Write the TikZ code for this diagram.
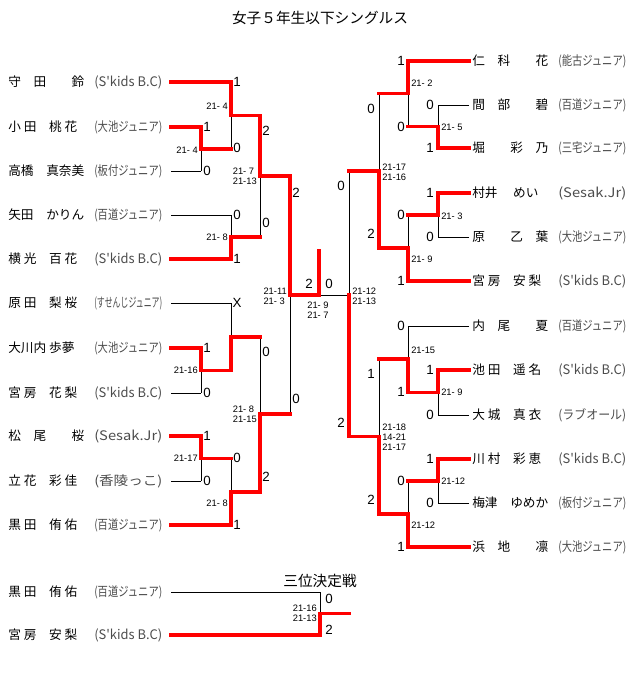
\documentclass[tikz,border=0pt]{standalone}
\usepackage{fontspec}
\setmainfont{Liberation Sans}
\newfontfamily\jp{Noto Sans CJK JP}
\begin{document}
\begin{tikzpicture}[x=0.75pt,y=-0.75pt,
    perdu/.style={draw=black,line width=0.75pt},
    gagne/.style={draw=red,line width=2.6pt,line cap=rect},
    nom/.style={anchor=west,inner sep=0pt,font=\jp\fontsize{9.5}{11}\selectfont},
    club/.style={anchor=west,inner sep=0pt,text=black!70,font=\jp\fontsize{10}{12}\selectfont},
    titre/.style={inner sep=0pt,font=\jp\fontsize{11}{13}\selectfont},
    score/.style={inner sep=0pt,font=\fontsize{10}{12}\selectfont},
    manche/.style={inner sep=0pt,align=left,font=\fontsize{7}{7.5}\selectfont}]
    \useasboundingbox (0,0) rectangle (640,689); % cadre de l'image
    \node[titre] (titre) at (320,18) {女子５年生以下シングルス};
    \node[titre] (troisieme) at (320,581) {三位決定戦};
    % Joueurs a gauche
    \foreach \i/\y/\joueur/\equipe in {1/82/{守　田　　鈴}/{(S'kids B.C)},
        2/127/{小 田　桃 花}/{(大池ジュニア)}, 3/171/{高橋　真奈美}/{(板付ジュニア)},
        4/215/{矢田　かりん}/{(百道ジュニア)}, 5/259/{横 光　百 花}/{(S'kids B.C)},
        6/303/{原 田　梨 桜}/{(すせんじジュニア)}, 7/348/{大川内 歩夢}/{(大池ジュニア)},
        8/393/{宮 房　花 梨}/{(S'kids B.C)}, 9/436/{松　尾　　桜}/{(Sesak.Jr)},
        10/481/{立 花　彩 佳}/{(香陵っこ)}, 11/525/{黒 田　侑 佑}/{(百道ジュニア)}} {
        \coordinate (l\i) at (171,\y);
        \node[nom] (nl\i) at (8,\y) {\joueur};
        \node[club] (cl\i) at (94,\y) {\resizebox*{51pt}{10pt}{\equipe}};}
    % Joueurs a droite
    \foreach \i/\y/\joueur/\equipe in {1/61/{仁　科　　花}/{(能古ジュニア)},
        2/105/{間　部　　碧}/{(百道ジュニア)}, 3/148/{堀　　彩　乃}/{(三宅ジュニア)},
        4/193/{村井　 めい}/{(Sesak.Jr)}, 5/237/{原　　乙　葉}/{(大池ジュニア)},
        6/281/{宮 房　安 梨}/{(S'kids B.C)}, 7/326/{内　尾　　夏}/{(百道ジュニア)},
        8/370/{池 田　遥 名}/{(S'kids B.C)}, 9/415/{大 城　真 衣}/{(ラブオール)},
        10/459/{川 村　彩 恵}/{(S'kids B.C)}, 11/503/{梅津　ゆめか}/{(板付ジュニア)},
        12/547/{浜　地　　凛}/{(大池ジュニア)}} {
        \coordinate (r\i) at (469,\y);
        \node[nom] (nr\i) at (472,\y) {\joueur};
        \node[club] (cr\i) at (558,\y) {\resizebox*{51pt}{10pt}{\equipe}};}
    % Match pour la troisieme place
    \foreach \i/\y/\joueur/\equipe in {1/592/{黒 田　侑 佑}/{(百道ジュニア)},
        2/635/{宮 房　安 梨}/{(S'kids B.C)}} {
        \coordinate (t\i) at (171,\y);
        \node[nom] (nt\i) at (8,\y) {\joueur};
        \node[club] (ct\i) at (94,\y) {\resizebox*{51pt}{10pt}{\equipe}};}
    % Points de rencontre
    \coordinate (a1) at (201,149);   \coordinate (a2) at (231,115.5);
    \coordinate (a4) at (231,237);   \coordinate (a3) at (260,176);
    \coordinate (a5) at (201,370.5); \coordinate (a6) at (231,337);
    \coordinate (a8) at (201,458.5); \coordinate (a9) at (231,492);
    \coordinate (a7) at (260,414);   \coordinate (sL) at (290,295);
    \coordinate (b1) at (438,126.5); \coordinate (b2) at (408,93.75);
    \coordinate (b4) at (438,215);   \coordinate (b5) at (408,248);
    \coordinate (b3) at (379,171);   \coordinate (b6) at (438,392.5);
    \coordinate (b7) at (408,359);   \coordinate (b9) at (438,481);
    \coordinate (b10) at (408,514);  \coordinate (b8) at (379,436.5);
    \coordinate (sR) at (349,295);   \coordinate (F) at (319,295);
    \coordinate (champ) at (319,251);
    \coordinate (t) at (320,613.5);  \coordinate (tw) at (349,613.5);
    % Lignes des joueurs
    \foreach \j/\m/\st in {l1/a2/gagne, l2/a1/gagne, l3/a1/perdu, l4/a4/perdu, l5/a4/gagne,
        l6/a6/perdu, l7/a5/gagne, l8/a5/perdu, l9/a8/gagne, l10/a8/perdu, l11/a9/gagne,
        r1/b2/gagne, r2/b1/perdu, r3/b1/gagne, r4/b4/gagne, r5/b4/perdu, r6/b5/gagne,
        r7/b7/perdu, r8/b6/gagne, r9/b6/perdu, r10/b9/gagne, r11/b9/perdu, r12/b10/gagne,
        t1/t/perdu, t2/t/gagne}
        \draw[\st] (\j) -- (\j -| \m);
    % Rencontres : point/gagnant/perdant/suivant
    \def\matchs{a1/l2/l3/a2, a2/l1/a1/a3, a4/l5/l4/a3, a3/a2/a4/sL, a5/l7/l8/a6,
        a6/a5/l6/a7, a8/l9/l10/a9, a9/l11/a8/a7, a7/a9/a6/sL, sL/a3/a7/F,
        b1/r3/r2/b2, b2/r1/b1/b3, b4/r4/r5/b5, b5/r6/b4/b3, b3/b5/b2/sR,
        b6/r8/r9/b7, b7/b6/r7/b8, b9/r10/r11/b10, b10/r12/b9/b8, b8/b10/b7/sR, t/t2/t1/tw}
    \foreach \match/\gagnant/\perdant/\suivant in \matchs
        \draw[perdu] (\match |- \perdant) -- (\match);
    \draw[perdu] (sR |- b3) -- (sR) -- (F);
    \foreach \match/\gagnant/\perdant/\suivant in \matchs
        \draw[gagne] (\match |- \gagnant) -- (\match) -- (\match -| \suivant);
    \draw[gagne] (sR |- b8) -- (sR);
    \draw[gagne] (F) -- (champ);
    % Scores
    \foreach \txt/\x/\y [count=\k] in {1/237/82, 1/207/127, 0/207/171, 0/237/148, 0/237/215,
        1/237/259, 2/266/131, 0/266/223, 2/296/193, X/237/303, 1/207/348, 0/207/393,
        0/266/352, 1/207/436, 0/207/481, 0/237/458, 1/237/525, 2/266/477, 0/296/399,
        2/309/284, 0/329/284, 1/401/61, 0/430/105, 1/430/148, 0/401/127, 0/371/109,
        1/430/193, 0/430/237, 0/401/215, 1/401/281, 2/371/234, 0/341/186, 0/401/326,
        1/430/370, 0/430/415, 1/401/392, 1/371/374, 1/430/459, 0/430/503, 0/401/481,
        1/401/547, 2/371/500, 2/341/423, 0/329/599, 2/329/630}
        \node[score] (sc\k) at (\x,\y) {\txt};
    % Resultats des manches
    \foreach \txt/\x/\y/\a [count=\k] in {{21- 4}/198/150/east, {21- 4}/228/106/east,
        {21- 7\\21-13}/257/176/east, {21- 8}/228/237/east, {21-11\\21- 3}/287/296/east,
        {21-16}/198/370/east, {21- 8\\21-15}/257/414/east, {21-17}/198/458/east,
        {21- 8}/228/503/east, {21-16\\21-13}/317/613/east, {21- 9\\21- 7}/318/310/center,
        {21-12\\21-13}/352/296/west, {21- 2}/411/83/west, {21- 5}/441/127/west,
        {21-17\\21-16}/382/172/west, {21- 3}/441/216/west, {21- 9}/411/259/west,
        {21-15}/411/350/west, {21- 9}/441/392/west, {21-18\\14-21\\21-17}/382/437/west,
        {21-12}/441/481/west, {21-12}/411/525/west}
        \node[manche,anchor=\a] (ms\k) at (\x,\y) {\txt};
\end{tikzpicture}
\end{document}
